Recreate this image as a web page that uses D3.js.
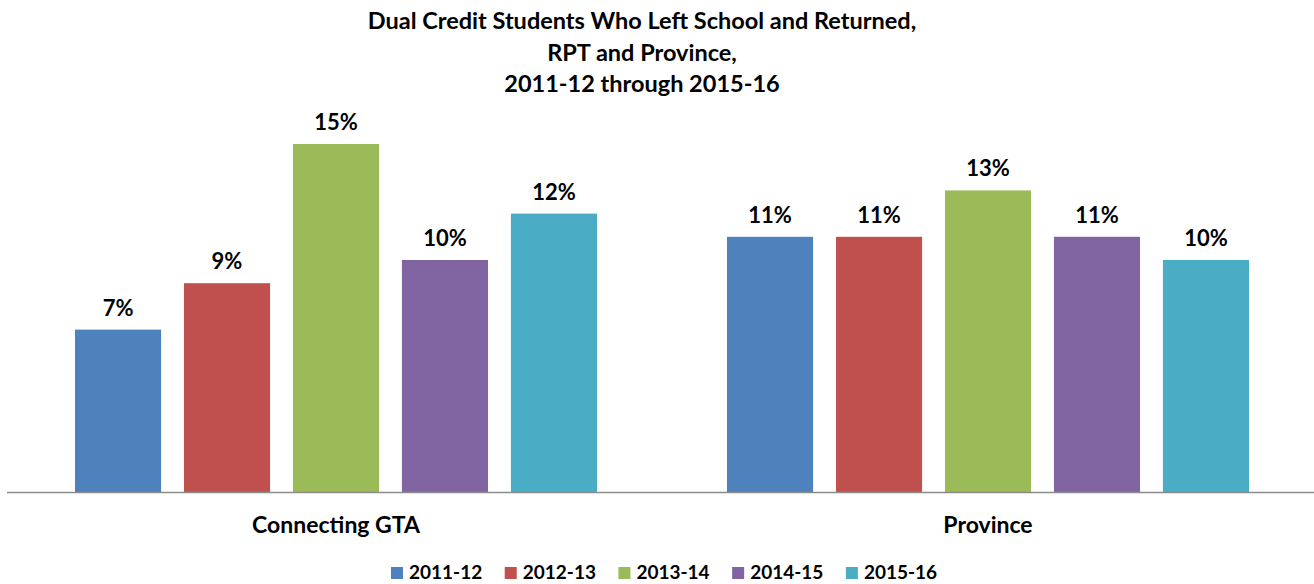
<!DOCTYPE html>
<html>
<head>
<meta charset="utf-8">
<script src="https://cdn.jsdelivr.net/npm/d3@7"></script>
<style>
    body { margin: 0; background: #fff; }
    text { font-family: Lato, "Open Sans", sans-serif; font-weight: bold; fill: #000; }
</style>
</head>
<body>
<div id="chart"></div>
<script>
// chart data
const titleLines = ["Dual Credit Students Who Left School and Returned,", "RPT and Province,", "2011-12 through 2015-16"];
const groups = ["Connecting GTA", "Province"];
const years = ["2011-12", "2012-13", "2013-14", "2014-15", "2015-16"];
const gtaValues = [7, 9, 15, 10, 12];
const provinceValues = [11, 11, 13, 11, 10];
const colors = ["#4F81BD", "#C0504D", "#9BBB59", "#8064A2", "#4BACC6"];

const seriesByGroup = [gtaValues, provinceValues];

let width = 1314, height = 584;

let svg = d3.select("#chart").append("svg")
    .attr("width", width)
    .attr("height", height);

// title
svg.append("g").selectAll("text")
    .data(titleLines)
    .enter().append("text")
    .attr("x", 642)
    .attr("y", (d, i) => 29 + i * 31.5)
    .attr("text-anchor", "middle")
    .style("font-size", "23.5px")
    .text(d => d);

// scales
let x0 = d3.scaleBand()
    .domain(groups)
    .range([10, 1314]);

let x1 = d3.scaleBand()
    .domain(years)
    .range([65, 587])
    .paddingInner(0.21);

let y = d3.scaleLinear()
    .domain([0, 15])
    .range([492, 144]);

let groupG = svg.selectAll(".group")
    .data(groups)
    .enter().append("g")
    .attr("class", "group")
    .attr("transform", d => `translate(${x0(d)},0)`);

groupG.selectAll("rect")
    .data((d, i) => seriesByGroup[i].map((v, j) => ({year: years[j], value: v, color: colors[j]})))
    .enter().append("rect")
    .attr("x", d => x1(d.year))
    .attr("y", d => y(d.value))
    .attr("width", x1.bandwidth())
    .attr("height", d => y(0) - y(d.value))
    .attr("fill", d => d.color);

groupG.selectAll(".val")
    .data((d, i) => seriesByGroup[i].map((v, j) => ({year: years[j], value: v})))
    .enter().append("text")
    .attr("class", "val")
    .attr("x", d => x1(d.year) + x1.bandwidth() / 2)
    .attr("y", d => y(d.value) - 14)
    .attr("text-anchor", "middle")
    .style("font-size", "22px")
    .text(d => d.value + "%");

// axis line
svg.append("line")
    .attr("x1", 7)
    .attr("x2", 1314)
    .attr("y1", y(0) + 0.5)
    .attr("y2", y(0) + 0.5)
    .attr("stroke", "#8c8c8c")
    .attr("stroke-width", 1.5);

// category labels
svg.selectAll(".cat")
    .data(groups)
    .enter().append("text")
    .attr("class", "cat")
    .attr("x", d => x0(d) + x0.bandwidth() / 2)
    .attr("y", 533)
    .attr("text-anchor", "middle")
    .style("font-size", "23px")
    .text(d => d);

// legend
let legend = svg.append("g");
let lx = 391;
years.forEach((yr, i) => {
    legend.append("rect")
        .attr("x", lx)
        .attr("y", 567)
        .attr("width", 12)
        .attr("height", 12)
        .attr("fill", colors[i]);
    let t = legend.append("text")
        .attr("x", lx + 18)
        .attr("y", 579)
        .style("font-size", "19px")
        .text(yr);
    lx += 18 + t.node().getComputedTextLength() + 22.5;
});
</script>
</body>
</html>
